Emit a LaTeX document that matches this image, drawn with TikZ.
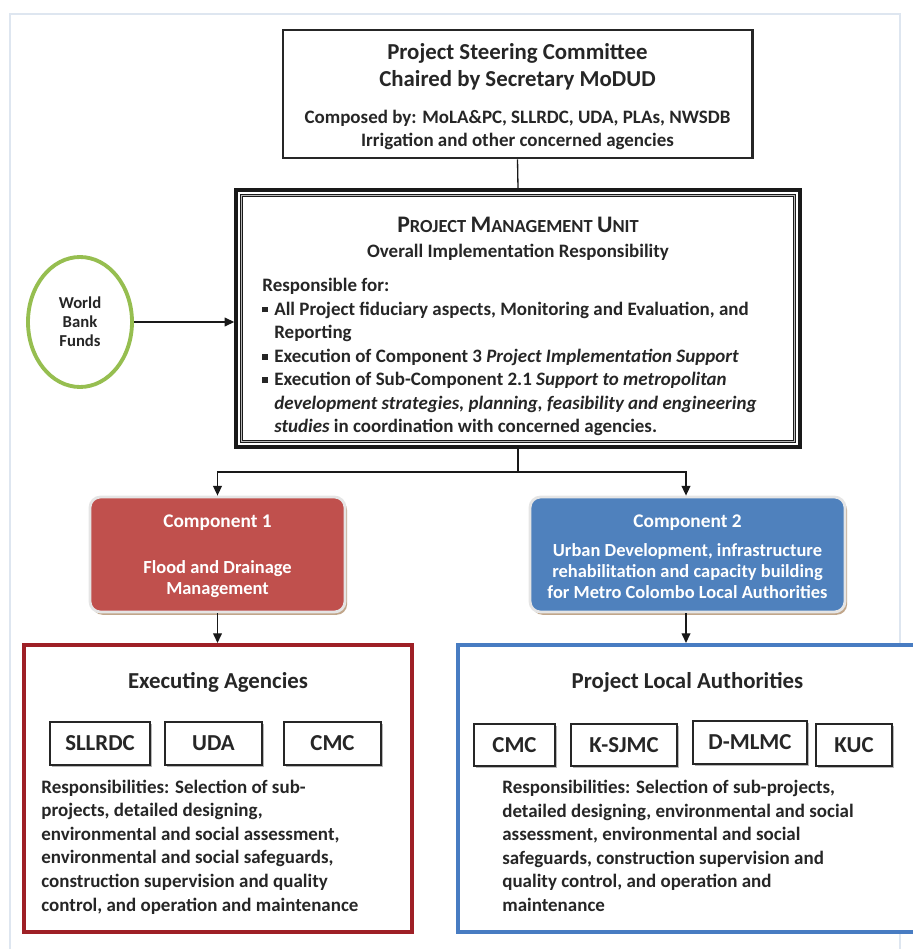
\documentclass[tikz,border=0pt]{standalone}
\usepackage{fontspec}
\setmainfont{Carlito}
\usetikzlibrary{arrows.meta,shapes.geometric,shadows}

\definecolor{compred}{RGB}{192,80,77}
\definecolor{compblue}{RGB}{79,129,189}
\definecolor{fundgreen}{RGB}{150,190,80}
\definecolor{execred}{RGB}{158,32,38}
\definecolor{plablue}{RGB}{72,124,194}
\definecolor{framegray}{RGB}{222,230,240}
\definecolor{txt}{RGB}{38,38,38}

\newcommand\px{0.02cm}
\newlength\bulind \setlength\bulind{6.8pt}
\newcommand\sqbul{\makebox[\bulind][l]{\rule[0.3ex]{0.3em}{0.3em}}}
\newcommand\capbig[1]{{\fontsize{13.5}{15}\selectfont #1}}
\newcommand\capsmall[1]{{\fontsize{10.5}{12}\selectfont #1}}

\tikzset{
  boxsize/.style 2 args={minimum width=#1*\px, minimum height=#2*\px, inner sep=0pt},
  steerbox/.style={draw=black!85, line width=1.7pt, fill=white},
  pmubox/.style={draw=black!90, line width=2pt, fill=white},
  pmuinner/.style={draw=black!90, line width=0.6pt, double=gray!55, double distance=0.7pt},
  fundell/.style={ellipse, draw=fundgreen, line width=2.2pt, align=center,
    font=\fontsize{9.5}{10.8}\selectfont\bfseries},
  compbox/.style={rounded corners=6pt, draw=gray!20, line width=1.6pt,
    drop shadow={shadow xshift=1.2pt, shadow yshift=-1.6pt, fill=brown!60!gray, opacity=.7}},
  groupbox/.style={line width=2.3pt, fill=white},
  agencybox/.style={draw=black!85, line width=1.1pt, fill=white, font=\fontsize{13}{15}\selectfont\bfseries,
    drop shadow={shadow xshift=1.4pt, shadow yshift=-1.4pt, fill=gray!70, opacity=.8}},
  titletxt/.style={align=center, font=\fontsize{13}{15.3}\selectfont\bfseries},
  bodytxt/.style={align=left, inner sep=0pt},
  comptxt/.style={align=center, text=white, font=\fontsize{10.5}{12}\selectfont\bfseries},
  arr/.style={draw=black!90, line width=0.75pt, -{Triangle[length=5.5pt,width=5pt]}},
  link/.style={draw=black!90, line width=0.75pt}
}

\begin{document}
\begin{tikzpicture}[x=\px, y=-\px, every node/.append style={text=txt},
  font=\fontsize{10.8}{13.4}\selectfont\bfseries]
\useasboundingbox (0,0) rectangle (912,949);
% page frame
\draw[framegray, line width=0.6pt] (10,949) -- (10,14) -- (900,14) -- (900,949);

% steering committee
\node[steerbox, boxsize={469}{128}] (steer) at (517.5,94) {};
\node[titletxt] (steertitle) at (517.5,66.5) {Project Steering Committee\\Chaired by Secretary MoDUD};
\node[bodytxt, align=center] (steerbody) at (517.5,130) {Composed by: MoLA\&PC, SLLRDC, UDA, PLAs, NWSDB\\Irrigation and other concerned agencies};

% project management unit
\node[pmubox, boxsize={564}{257}] (pmu) at (518,318.5) {};
\draw[pmuinner] ([shift={(7,7)}]pmu.north west) rectangle ([shift={(-7,-7)}]pmu.south east);
\node[align=center] (pmutitle) at (518,238.5) {\capbig{P}\capsmall{ROJECT} \capbig{M}\capsmall{ANAGEMENT} \capbig{U}\capsmall{NIT}\\[1pt]
  Overall Implementation Responsibility};
\node[bodytxt, anchor=north west] (pmubody) at (262,278) {Responsible for:\\
  \sqbul All Project fiduciary aspects, Monitoring and Evaluation, and\\
  \hspace*{\bulind}Reporting\\
  \sqbul Execution of Component 3 \textit{Project Implementation Support}\\
  \sqbul Execution of Sub-Component 2.1 \textit{Support to metropolitan}\\
  \hspace*{\bulind}\textit{development strategies, planning, feasibility and engineering}\\
  \hspace*{\bulind}\textit{studies} in coordination with concerned agencies.};

% funds
\node[fundell, boxsize={104}{130}] (wbf) at (80,322) {World\\Bank\\Funds};

% components
\node[compbox, fill=compred, boxsize={255}{115}] (comp1) at (217.5,554.5) {};
\node[comptxt, font=\fontsize{11}{13}\selectfont\bfseries] (comp1title) at (217.5,523) {Component 1};
\node[comptxt] (comp1txt) at (217.5,579) {Flood and Drainage\\Management};
\node[compbox, fill=compblue, boxsize={315}{115}] (comp2) at (687.5,554.5) {};
\node[comptxt, font=\fontsize{11}{13}\selectfont\bfseries] (comp2title) at (687.5,523) {Component 2};
\node[comptxt] (comp2txt) at (687.5,571) {Urban Development, infrastructure\\rehabilitation and capacity building\\for Metro Colombo Local Authorities};

% executing agencies
\node[groupbox, draw=execred, boxsize={388}{287}] (exec) at (218,788.5) {};
\node[titletxt] (exectitle) at (218,682) {Executing Agencies};
\node[agencybox, boxsize={100}{43}] (sllrdc) at (100,743.5) {SLLRDC};
\node[agencybox, boxsize={97}{43}] (uda) at (213.5,743.5) {UDA};
\node[agencybox, boxsize={97}{43}] (cmcA) at (332.5,743.5) {CMC};
\node[bodytxt, anchor=west] (exectxt) at (41,847) {Responsibilities: Selection of sub-\\projects, detailed designing,\\environmental and social assessment,\\environmental and social safeguards,\\construction supervision and quality\\control, and operation and maintenance};

% project local authorities
\node[groupbox, draw=plablue, boxsize={460}{287}] (plauth) at (688,788.5) {};
\node[titletxt] (plauthtitle) at (687.5,682) {Project Local Authorities};
\node[agencybox, boxsize={81}{42}] (cmcB) at (514.5,745) {CMC};
\node[agencybox, boxsize={106}{42}] (ksjmc) at (624,745) {K-SJMC};
\node[agencybox, boxsize={114}{43}] (dmlmc) at (750,742.5) {D-MLMC};
\node[agencybox, boxsize={76}{42}] (kuc) at (854,745) {KUC};
\node[bodytxt, anchor=west] (plauthtxt) at (502,846) {Responsibilities: Selection of sub-projects,\\detailed designing, environmental and social\\assessment, environmental and social\\safeguards, construction supervision and\\quality control, and operation and\\maintenance};

% connectors
\coordinate (split) at (518,472);
\draw[link] (steer.south) -- (pmu.north);
\draw[arr] (wbf.east) -- (wbf.east -| pmu.west);
\draw[link] (pmu.south) -- (split);
\draw[arr] (split) -| (comp1.north);
\draw[arr] (split) -| ([xshift=-1.5*\px]comp2.north);
\draw[arr] (comp1.south) -- (comp1.south |- exec.north);
\draw[arr] ([xshift=-1.5*\px]comp2.south) -- ([xshift=-1.5*\px]comp2.south |- plauth.north);
\end{tikzpicture}
\end{document}
